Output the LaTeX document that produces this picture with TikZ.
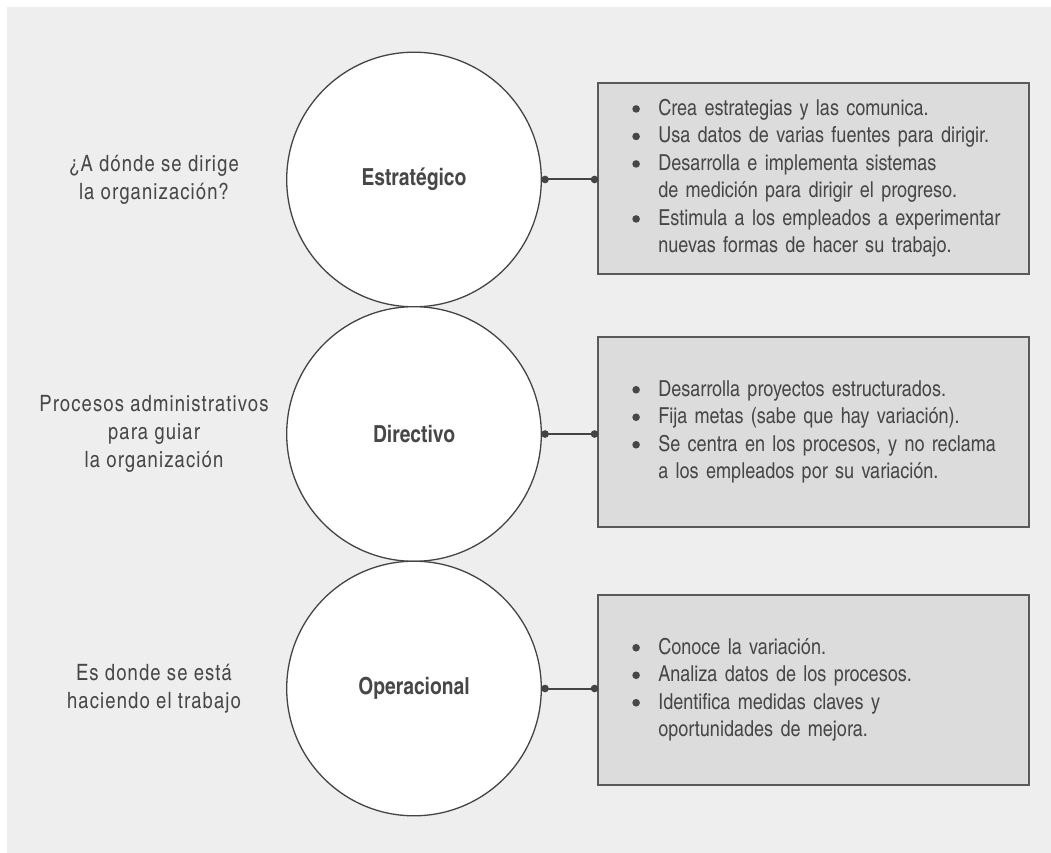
\documentclass[tikz,border=0pt]{standalone}
\usepackage{fontspec}
\setmainfont{texgyreheroscn}[Extension=.otf, UprightFont=*-regular, BoldFont=*-bold]
\usetikzlibrary{arrows.meta,positioning}
\definecolor{fondo}{HTML}{EEEEEE}
\definecolor{griscaja}{HTML}{DCDCDC}
\definecolor{trazo}{HTML}{444444}
\definecolor{borde}{HTML}{5A5A5A}
\definecolor{texto}{HTML}{474747}
\newcommand{\vineta}{\tikz[baseline={(0pt,-6.5pt)}]\fill[texto] (0pt,0pt) circle (3.8pt);}

\begin{document}
\begin{tikzpicture}[x=1pt, y=-1pt,
  nivel/.style={circle, draw=trazo, line width=1.3pt, fill=white, minimum size=254.6pt,
    inner sep=0pt, outer sep=0pt, text=texto, font=\bfseries\fontsize{23.5}{26}\selectfont},
  cuadro/.style={rectangle, draw=borde, line width=1.8pt, fill=griscaja, outer sep=0pt,
    minimum width=431pt, minimum height=190.7pt, inner xsep=34pt, text width=363pt,
    align=left, text=texto, font=\fontsize{22}{27.5}\selectfont},
  pregunta/.style={align=center, text=texto,
    font=\fontsize{22.5}{28}\selectfont\addfontfeatures{LetterSpace=5}},
  enlace/.style={draw=trazo, line width=2pt, {Circle[length=7.5pt]}-{Circle[length=7.5pt]}}]

  \useasboundingbox (0,0) rectangle (1051,853);
  \fill[fondo] (7,7) rectangle (1051,853);

  % Niveles
  \node[nivel] (estr) at (414,179.5) {Estratégico};
  \node[nivel] (dir) at (414,434) {Directivo};
  \node[nivel] (oper) at (414,688.5) {Operacional};

  % Preguntas
  \node[pregunta] (estrq) at (154,179.5) {¿A dónde se dirige\\la organización?};
  \node[pregunta] (dirq) at (154,434) {Procesos administrativos\\para guiar\\la organización};
  \node[pregunta] (operq) at (154,688.5) {Es donde se está\\haciendo el trabajo};

  % Cuadros
  \node[cuadro] (estrbox) at (813.8,178.7) {\begin{tabular}{@{}p{26pt}@{}l@{}}
    \vineta & Crea estrategias y las comunica.\\
    \vineta & Usa datos de varias fuentes para dirigir.\\
    \vineta & Desarrolla e implementa sistemas\\
    & de medición para dirigir el progreso.\\
    \vineta & Estimula a los empleados a experimentar\\
    & nuevas formas de hacer su trabajo.
  \end{tabular}};
  \node[cuadro] (dirbox) at (813.8,432) {\begin{tabular}{@{}p{26pt}@{}l@{}}
    \vineta & Desarrolla proyectos estructurados.\\
    \vineta & Fija metas (sabe que hay variación).\\
    \vineta & Se centra en los procesos, y no reclama\\
    & a los empleados por su variación.
  \end{tabular}};
  \node[cuadro] (operbox) at (813.8,690) {\begin{tabular}{@{}p{26pt}@{}l@{}}
    \vineta & Conoce la variación.\\
    \vineta & Analiza datos de los procesos.\\
    \vineta & Identifica medidas claves y\\
    & oportunidades de mejora.
  \end{tabular}};

  % Enlaces
  \draw[enlace] (estr) -- (estr -| estrbox.west);
  \draw[enlace] (dir) -- (dir -| dirbox.west);
  \draw[enlace] (oper) -- (oper -| operbox.west);
\end{tikzpicture}
\end{document}
